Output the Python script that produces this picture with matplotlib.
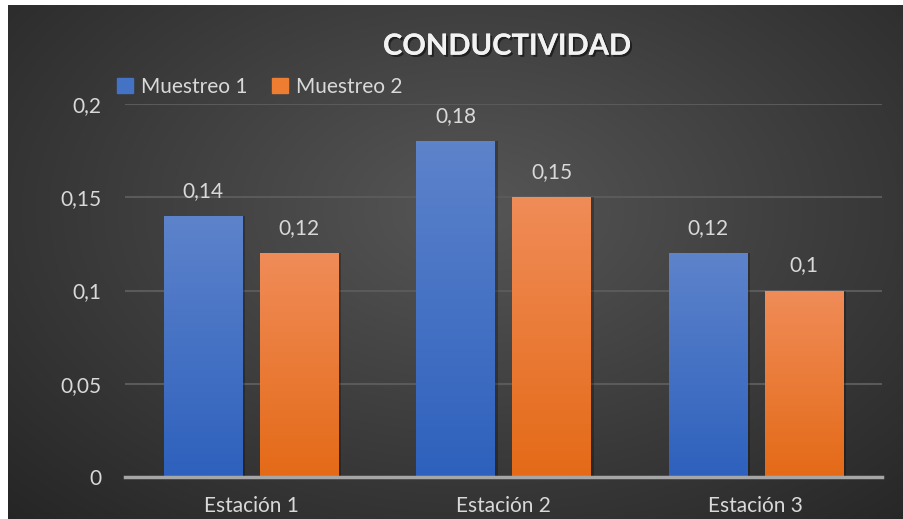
import numpy as np
import matplotlib
matplotlib.use('Agg')
import matplotlib.pyplot as plt
from matplotlib.patches import Patch
import matplotlib.patheffects as pe

plt.rcParams['font.family'] = ['Lato', 'DejaVu Sans']

estaciones = ['Estación 1', 'Estación 2', 'Estación 3']
muestreo_1 = [0.14, 0.18, 0.12]
muestreo_2 = [0.12, 0.15, 0.10]
etiquetas_1 = ['0,14', '0,18', '0,12']
etiquetas_2 = ['0,12', '0,15', '0,1']
y_ticks = [0, 0.05, 0.1, 0.15, 0.2]
y_tick_labels = ['0', '0,05', '0,1', '0,15', '0,2']

text_col = '#d9d9d9'

fig = plt.figure(figsize=(9.04, 5.19), dpi=100)
fig.patch.set_facecolor('white')

# radial background
bg = fig.add_axes([8 / 904, 0, 1 - 8 / 904, 1 - 5 / 519])
bg.set_axis_off()
yy, xx = np.mgrid[0:1:300j, 0:1:500j]
r = np.sqrt(((xx - 0.52) / 0.75) ** 2 + ((yy - 0.6) / 0.85) ** 2)
r = np.clip(r, 0, 1)
c_in = np.array([0x56, 0x56, 0x56]) / 255
c_out = np.array([0x25, 0x25, 0x25]) / 255
img = c_in[None, None, :] * (1 - r[..., None]) + c_out[None, None, :] * r[..., None]
bg.imshow(img, aspect='auto', extent=[0, 1, 0, 1], origin='lower')
bg.set_xlim(0, 1)
bg.set_ylim(0, 1)

ax = fig.add_axes([125 / 904, 42 / 519, (882 - 125) / 904, (477 - 104) / 519])
ax.patch.set_alpha(0)

x = np.arange(len(estaciones))
w = 0.31
off = 0.19


def gradient_bars(xpos, vals, top, bottom):
    bars = ax.bar(xpos, vals, w, color='none', zorder=3)
    for b in bars:
        # sombra suave
        ax.bar(b.get_x() + w / 2 + 0.012, b.get_height(), w, color='black',
               alpha=0.25, zorder=2, linewidth=0)
        grad = np.linspace(0, 1, 100)[:, None, None]
        cols = np.array(bottom)[None, None, :] * (1 - grad) + np.array(top)[None, None, :] * grad
        im = ax.imshow(cols, aspect='auto', origin='lower', zorder=3,
                       extent=[b.get_x(), b.get_x() + w, 0, b.get_height()])
        im.set_clip_path(b)
    return bars


blue_top = np.array([0x5d, 0x83, 0xcb]) / 255
blue_bot = np.array([0x2e, 0x61, 0xbd]) / 255
orange_top = np.array([0xf0, 0x8c, 0x58]) / 255
orange_bot = np.array([0xe4, 0x6a, 0x17]) / 255

gradient_bars(x - off, muestreo_1, blue_top, blue_bot)
gradient_bars(x + off, muestreo_2, orange_top, orange_bot)

for xi, v, s in zip(x - off, muestreo_1, etiquetas_1):
    ax.text(xi, v + 0.0135, s, ha='center', va='center', color=text_col, fontsize=15)
for xi, v, s in zip(x + off, muestreo_2, etiquetas_2):
    ax.text(xi, v + 0.0135, s, ha='center', va='center', color=text_col, fontsize=15)

ax.set_xlim(-0.5, 2.5)
ax.set_ylim(0, 0.2)
ax.set_yticks(y_ticks)
ax.set_yticklabels(y_tick_labels)
ax.set_xticks(x)
ax.set_xticklabels(estaciones)
ax.tick_params(length=0, colors=text_col, labelsize=15)
ax.tick_params(axis='y', pad=17)
ax.tick_params(axis='x', pad=14)
ax.grid(axis='y', color='#5a5a5a', linewidth=1.5, zorder=0)
for s in ['top', 'right', 'left']:
    ax.spines[s].set_visible(False)
ax.spines['bottom'].set_color('#a6a6a6')
ax.spines['bottom'].set_linewidth(2.5)
ax.spines['bottom'].set_zorder(4)

fig.text(0.561, 0.91, 'CONDUCTIVIDAD', ha='center', va='center', fontsize=21,
         fontweight='bold', color='#f2f2f2',
         path_effects=[pe.withSimplePatchShadow(offset=(1.5, -1.5), shadow_rgbFace='black', alpha=0.5), pe.Normal()])

handles = [Patch(color='#4472c4', label='Muestreo 1'), Patch(color='#ed7d31', label='Muestreo 2')]
leg = fig.legend(handles=handles, loc='center left', bbox_to_anchor=(117 / 904, 1 - 87 / 519),
                 ncol=2, frameon=False, borderaxespad=0, borderpad=0, handlelength=0.75,
                 handleheight=0.75, handletextpad=0.4, columnspacing=1.2, fontsize=15)
for t in leg.get_texts():
    t.set_color(text_col)

fig.savefig('out.png', dpi=100, facecolor=fig.get_facecolor())
